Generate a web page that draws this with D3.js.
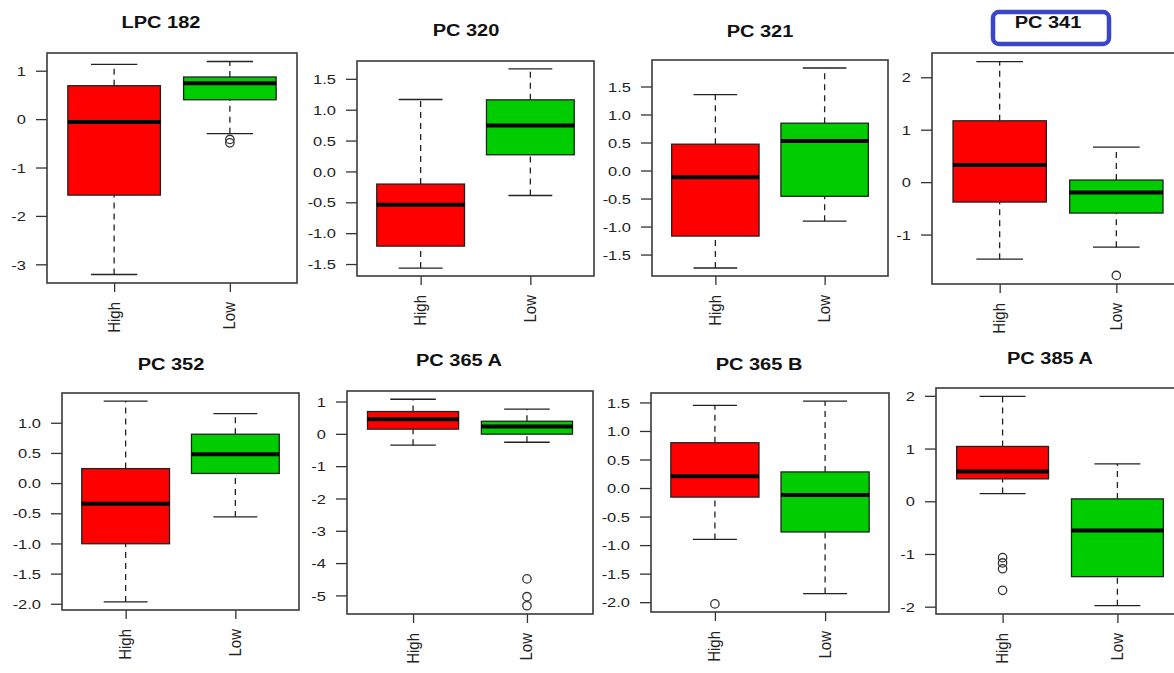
<!DOCTYPE html>
<html lang="en">
<meta charset="utf-8">
<style>
body { margin: 0; background: #fff; }
svg { display: block; font-family: "Liberation Sans", Arial, sans-serif; }
.frame { fill: none; stroke: #3a3a3a; stroke-width: 1.6px; }
.axis line { stroke: #333; stroke-width: 1.3px; }
.axis text { fill: #222; font-size: 13.5px; }
.title { font-size: 16px; font-weight: bold; fill: #111; }
.cat { font-size: 15px; fill: #222; }
.whisker { stroke: #222; stroke-width: 1.3px; stroke-dasharray: 6,5; }
.staple { stroke: #222; stroke-width: 1.3px; }
.box { stroke: #222; stroke-width: 1.3px; }
.median { stroke: #000; stroke-width: 4px; }
.outlier { fill: none; stroke: #333; stroke-width: 1.3px; }
</style>
<body>
<svg id="chart" width="1174" height="673"></svg>
<script src="https://d3js.org/d3.v7.min.js"></script>
<script>
"use strict";

// ---- data ----
const titles = ["LPC 182", "PC 320", "PC 321", "PC 341", "PC 352", "PC 365 A", "PC 365 B", "PC 385 A"];
const groups = ["High", "Low"];
const groupColors = ["#ff0000", "#00cd00"];

// [lower whisker, Q1, median, Q3, upper whisker]
const highStats = [
  [-3.21, -1.57, -0.06, 0.69, 1.13],
  [-1.565, -1.21, -0.54, -0.205, 1.165],
  [-1.74, -1.17, -0.12, 0.47, 1.355],
  [-1.47, -0.38, 0.327, 1.17, 2.30],
  [-1.97, -1.005, -0.343, 0.24, 1.36],
  [-0.35, 0.145, 0.455, 0.69, 1.07],
  [-0.90, -0.159, 0.205, 0.794, 1.447],
  [0.146, 0.425, 0.563, 1.04, 1.99]
];
const lowStats = [
  [-0.30, 0.40, 0.74, 0.87, 1.19],
  [-0.39, 0.27, 0.745, 1.16, 1.66],
  [-0.905, -0.46, 0.527, 0.845, 1.83],
  [-1.24, -0.59, -0.20, 0.04, 0.667],
  [-0.56, 0.16, 0.478, 0.81, 1.15],
  [-0.26, -0.01, 0.225, 0.39, 0.765],
  [-1.85, -0.77, -0.124, 0.282, 1.523],
  [-1.98, -1.43, -0.556, 0.045, 0.71]
];
const highOutliers = [[], [], [], [], [], [], [-2.03], [-1.07, -1.17, -1.28, -1.69]];
const lowOutliers = [[-0.42, -0.49], [], [], [-1.78], [], [-4.49, -5.04, -5.32], [], []];

const yTicks = [
  [-3, -2, -1, 0, 1],
  [-1.5, -1.0, -0.5, 0.0, 0.5, 1.0, 1.5],
  [-1.5, -1.0, -0.5, 0.0, 0.5, 1.0, 1.5],
  [-1, 0, 1, 2],
  [-2.0, -1.5, -1.0, -0.5, 0.0, 0.5, 1.0],
  [-5, -4, -3, -2, -1, 0, 1],
  [-2.0, -1.5, -1.0, -0.5, 0.0, 0.5, 1.0, 1.5],
  [-2, -1, 0, 1, 2]
];
const tickDecimals = [0, 1, 1, 0, 1, 0, 1, 0];

// ---- layout: plot frame of each panel and title position ----
const frames = [
  {x0: 47, x1: 297, y0: 53, y1: 283, tx: 161, ty: 28},
  {x0: 357, x1: 594, y0: 61, y1: 276, tx: 466, ty: 36},
  {x0: 652, x1: 888, y0: 60, y1: 276, tx: 760, ty: 37},
  {x0: 932, x1: 1184, y0: 53, y1: 284, tx: 1048, ty: 28},
  {x0: 62, x1: 299, y0: 393, y1: 610, tx: 171, ty: 370},
  {x0: 347, x1: 593, y0: 391, y1: 614, tx: 459, ty: 366},
  {x0: 651, x1: 889, y0: 393, y1: 612, tx: 759, ty: 370},
  {x0: 936, x1: 1184, y0: 388, y1: 614, tx: 1050, ty: 364}
];
const SX = 1.22;      // glyphs in the picture are a little wider than tall
const BOXWEX = 0.8;

const svg = d3.select("#chart");

titles.forEach(function(title, p) {
  const f = frames[p];
  const g = svg.append("g");

  // y range as R does it: data extent plus 4% each side
  const all = highStats[p].concat(lowStats[p], highOutliers[p], lowOutliers[p]);
  const ext = d3.extent(all);
  const pad = (ext[1] - ext[0]) * 0.04;

  const x = d3.scaleLinear().domain([0.42, 2.58]).range([f.x0, f.x1]);
  const y = d3.scaleLinear().domain([ext[0] - pad, ext[1] + pad]).range([f.y1, f.y0]);

  // y axis (plain hyphen for minus, like R)
  const fmt = d3.format("." + tickDecimals[p] + "f");
  const yAxis = g.append("g")
      .attr("class", "axis")
      .attr("transform", "translate(" + f.x0 + ",0)")
      .call(d3.axisLeft(y).tickValues(yTicks[p]).tickSize(11).tickPadding(0)
        .tickFormat(d => fmt(d).replace("\u2212", "-")));
  yAxis.select(".domain").remove();
  yAxis.selectAll("text")
      .attr("x", null).attr("dy", null)
      .attr("transform", "translate(-21,4.7) scale(" + SX + ",1)");

  // x axis
  const xAxis = g.append("g")
      .attr("class", "axis")
      .attr("transform", "translate(0," + f.y1 + ")")
      .call(d3.axisBottom(x).tickValues([1, 2]).tickSize(9).tickFormat(""));
  xAxis.select(".domain").remove();

  g.selectAll(".cat")
    .data(groups)
    .join("text")
      .attr("class", "cat")
      .attr("text-anchor", "end")
      .attr("transform", (d, i) => "translate(" + (x(i + 1) + 5.5) + "," + (f.y1 + 19) + ") scale(" + 1.1 + ",1) rotate(-90)")
      .text(d => d);

  // boxes
  const stats = [highStats[p], lowStats[p]];
  const outl = [highOutliers[p], lowOutliers[p]];
  stats.forEach(function(s, i) {
    const cx = x(i + 1);
    const bl = x(i + 1 - BOXWEX / 2), br = x(i + 1 + BOXWEX / 2);
    const sl = x(i + 1 - BOXWEX / 4), sr = x(i + 1 + BOXWEX / 4);
    const bg = g.append("g");
    bg.append("line").attr("class", "whisker")
      .attr("x1", cx).attr("x2", cx).attr("y1", y(s[0])).attr("y2", y(s[1]));
    bg.append("line").attr("class", "whisker")
      .attr("x1", cx).attr("x2", cx).attr("y1", y(s[3])).attr("y2", y(s[4]));
    bg.append("line").attr("class", "staple")
      .attr("x1", sl).attr("x2", sr).attr("y1", y(s[0])).attr("y2", y(s[0]));
    bg.append("line").attr("class", "staple")
      .attr("x1", sl).attr("x2", sr).attr("y1", y(s[4])).attr("y2", y(s[4]));
    bg.append("rect").attr("class", "box")
      .attr("x", bl).attr("width", br - bl)
      .attr("y", y(s[3])).attr("height", y(s[1]) - y(s[3]))
      .attr("fill", groupColors[i]);
    bg.append("line").attr("class", "median")
      .attr("x1", bl).attr("x2", br).attr("y1", y(s[2])).attr("y2", y(s[2]));
    bg.selectAll("circle")
      .data(outl[i])
      .join("circle")
        .attr("class", "outlier")
        .attr("cx", cx).attr("cy", d => y(d)).attr("r", 4.2);
  });

  // frame
  g.append("rect").attr("class", "frame")
    .attr("x", f.x0).attr("y", f.y0)
    .attr("width", f.x1 - f.x0).attr("height", f.y1 - f.y0);

  // title
  g.append("text").attr("class", "title")
    .attr("text-anchor", "middle")
    .attr("transform", "translate(" + f.tx + "," + f.ty + ") scale(1.25,1)")
    .text(title);
});

// hand-drawn highlight around the PC 341 title
svg.append("rect")
  .attr("x", 993).attr("y", 12).attr("width", 116).attr("height", 32)
  .attr("rx", 6)
  .attr("fill", "none").attr("stroke", "#3b45c8").attr("stroke-width", 4.5);
</script>
</body>
</html>
